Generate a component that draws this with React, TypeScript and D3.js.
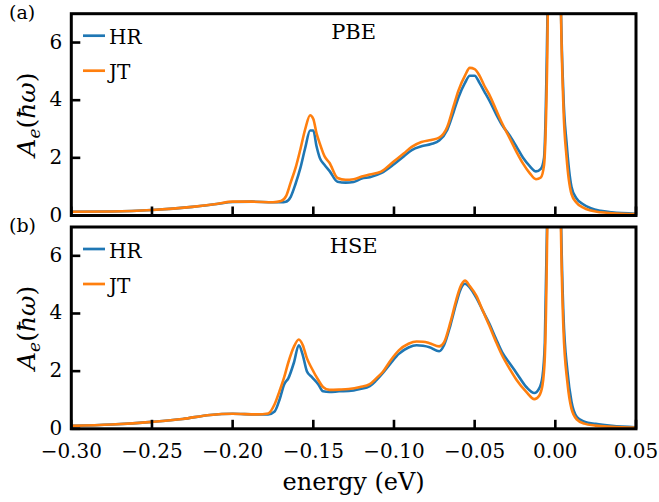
import React from "react";
import * as d3 from "d3";

const energyPBE = [-0.3, -0.275, -0.25, -0.225, -0.21, -0.2, -0.188, -0.175, -0.17, -0.167, -0.164, -0.161, -0.158, -0.155, -0.152, -0.15, -0.148, -0.146, -0.143, -0.14, -0.135, -0.13, -0.125, -0.12, -0.115, -0.108, -0.1, -0.094, -0.089, -0.083, -0.077, -0.072, -0.067, -0.063, -0.06, -0.056, -0.053, -0.05, -0.047, -0.044, -0.041, -0.037, -0.033, -0.028, -0.024, -0.02, -0.016, -0.012, -0.009, -0.007, -0.005, -0.003, -0.001, 0.001, 0.003, 0.005, 0.007, 0.01, 0.013, 0.017, 0.022, 0.028, 0.035, 0.05];
const hrPBE = [0.13, 0.14, 0.19, 0.3, 0.4, 0.47, 0.48, 0.46, 0.46, 0.48, 0.65, 1.1, 1.65, 2.35, 2.95, 2.95, 2.4, 2.0, 1.75, 1.55, 1.17, 1.14, 1.16, 1.28, 1.33, 1.47, 1.78, 2.05, 2.27, 2.4, 2.48, 2.6, 2.97, 3.6, 4.1, 4.6, 4.85, 4.85, 4.6, 4.3, 4.0, 3.55, 3.14, 2.75, 2.38, 2.0, 1.72, 1.53, 1.62, 2.0, 6.5, 16, 30, 25, 9, 4.2, 2.5, 1.0, 0.6, 0.4, 0.25, 0.16, 0.11, 0.06];
const jtPBE = [0.13, 0.14, 0.19, 0.3, 0.4, 0.48, 0.48, 0.46, 0.5, 0.66, 1.15, 1.65, 2.3, 3.0, 3.48, 3.35, 2.85, 2.5, 2.05, 1.83, 1.3, 1.24, 1.26, 1.35, 1.42, 1.52, 1.88, 2.15, 2.38, 2.55, 2.62, 2.7, 3.07, 3.8, 4.34, 4.85, 5.12, 5.08, 4.85, 4.5, 4.2, 3.7, 3.2, 2.65, 2.2, 1.8, 1.48, 1.26, 1.32, 1.75, 5.5, 15, 30, 26, 9, 3.8, 2.0, 0.75, 0.45, 0.28, 0.17, 0.11, 0.08, 0.05];

const energyHSE = [-0.3, -0.275, -0.25, -0.231, -0.214, -0.2, -0.185, -0.178, -0.174, -0.171, -0.168, -0.1655, -0.162, -0.159, -0.1565, -0.154, -0.151, -0.147, -0.144, -0.14, -0.134, -0.128, -0.121, -0.115, -0.111, -0.107, -0.102, -0.097, -0.091, -0.086, -0.082, -0.078, -0.072, -0.069, -0.065, -0.0615, -0.059, -0.056, -0.053, -0.049, -0.045, -0.041, -0.037, -0.033, -0.028, -0.024, -0.018, -0.013, -0.01, -0.008, -0.0065, -0.005, -0.003, -0.001, 0.001, 0.003, 0.005, 0.0075, 0.01, 0.0134, 0.018, 0.025, 0.035, 0.05];
const hrHSE = [0.1, 0.15, 0.24, 0.34, 0.48, 0.52, 0.5, 0.5, 0.6, 1.0, 1.55, 1.75, 2.3, 2.9, 2.55, 2.0, 1.8, 1.55, 1.3, 1.28, 1.3, 1.31, 1.38, 1.48, 1.68, 1.93, 2.28, 2.6, 2.82, 2.9, 2.88, 2.83, 2.69, 2.9, 3.6, 4.34, 4.8, 5.03, 4.9, 4.55, 4.1, 3.66, 3.15, 2.66, 2.25, 1.93, 1.45, 1.24, 1.4, 1.8, 3.0, 7.5, 20, 30, 25, 9.5, 4.0, 2.0, 0.95, 0.41, 0.25, 0.17, 0.1, 0.05];
const jtHSE = [0.1, 0.15, 0.24, 0.34, 0.48, 0.52, 0.5, 0.53, 0.85, 1.3, 1.8, 2.3, 2.85, 3.1, 2.9, 2.45, 2.1, 1.7, 1.45, 1.35, 1.36, 1.38, 1.45, 1.55, 1.75, 1.97, 2.38, 2.72, 2.95, 3.03, 3.02, 2.97, 2.86, 3.0, 3.7, 4.45, 4.9, 5.14, 4.95, 4.62, 4.1, 3.59, 3.05, 2.55, 2.05, 1.69, 1.28, 1.03, 1.15, 1.5, 2.5, 7.0, 20, 30, 25, 9, 3.5, 1.6, 0.7, 0.32, 0.18, 0.11, 0.07, 0.04];

const xTicks = [-0.3, -0.25, -0.2, -0.15, -0.1, -0.05, 0.0, 0.05];
const yTicks = [0, 2, 4, 6];
const seriesNames = ["HR", "JT"];
const seriesColors = ["#1f77b4", "#ff7f0e"];
const panelLetters = ["(a)", "(b)"];
const panelTitles = ["PBE", "HSE"];

const W = 659;
const H = 502;
const left = 71.3;
const right = 636;
const panelTops = [13.7, 227];
const panelH = 201.8;
const FONT = "DejaVu Serif";

const fmt = (v: number) => {
  const s = Math.abs(v).toFixed(2);
  return v < -1e-9 ? "\u2212" + s : s;
};

function Panel({ idx, energy, hr, jt }: { idx: number; energy: number[]; hr: number[]; jt: number[] }) {
  const top = panelTops[idx];
  const bottom = top + panelH;
  const x = d3.scaleLinear().domain([-0.3, 0.05]).range([left, right]);
  const y = d3.scaleLinear().domain([0, 7]).range([bottom, top]);
  const line = d3
    .line<number>()
    .x((_, i) => x(energy[i]))
    .y((d) => y(d))
    .curve(d3.curveMonotoneX);
  const clipId = `clip-${idx}`;
  const showXLabels = idx === 1;
  return (
    <g>
      <defs>
        <clipPath id={clipId}>
          <rect x={left} y={top} width={right - left} height={panelH} />
        </clipPath>
      </defs>
      <g clipPath={`url(#${clipId})`}>
        {[hr, jt].map((vals, k) => (
          <path
            key={k}
            d={line(vals) || ""}
            fill="none"
            stroke={seriesColors[k]}
            strokeWidth={2.6}
            strokeLinejoin="round"
            strokeLinecap="round"
          />
        ))}
      </g>
      {xTicks.map((t) => (
        <g key={t}>
          <line x1={x(t)} x2={x(t)} y1={bottom} y2={bottom - 9} stroke="#000" strokeWidth={2.6} />
          {showXLabels && (
            <text x={x(t)} y={bottom + 29.5} textAnchor="middle" style={{ fontFamily: FONT }} fontSize={20} fill="#000">
              {fmt(t)}
            </text>
          )}
        </g>
      ))}
      {yTicks.map((t) => (
        <g key={t}>
          <line x1={left} x2={left + 9} y1={y(t)} y2={y(t)} stroke="#000" strokeWidth={2.6} />
          <text x={left - 9} y={y(t) + 6} textAnchor="end" style={{ fontFamily: FONT }} fontSize={20} fill="#000">
            {t}
          </text>
        </g>
      ))}
      <rect x={left} y={top} width={right - left} height={panelH} fill="none" stroke="#000" strokeWidth={3} />
      {seriesNames.map((name, k) => {
        const ly = top + 22 + k * 35;
        return (
          <g key={name}>
            <line x1={83} x2={105} y1={ly} y2={ly} stroke={seriesColors[k]} strokeWidth={2.7} />
            <text x={109} y={ly + 8.5} style={{ fontFamily: FONT }} fontSize={20} fill="#000">
              {name}
            </text>
          </g>
        );
      })}
      <text x={(left + right) / 2} y={top + 25.5} textAnchor="middle" style={{ fontFamily: FONT }} fontSize={21} fill="#000">
        {panelTitles[idx]}
      </text>
      <text x={9} y={top + 5} style={{ fontFamily: FONT }} fontSize={19} fill="#000">
        {panelLetters[idx]}
      </text>
      <text
        transform={`translate(35,${(top + bottom) / 2}) rotate(-90)`}
        textAnchor="middle"
        style={{ fontFamily: FONT }}
        fontSize={25}
        fill="#000"
      >
        <tspan fontStyle="italic">A</tspan>
        <tspan fontStyle="italic" fontSize={17} dy={5}>e</tspan>
        <tspan dy={-5}>(</tspan>
        <tspan fontStyle="italic">ħω</tspan>
        <tspan>)</tspan>
      </text>
    </g>
  );
}

export default function App() {
  return (
    <svg width={W} height={H} style={{ position: "absolute", left: 0, top: 0, background: "#fff" }}>
      <rect width={W} height={H} fill="#fff" />
      <Panel idx={0} energy={energyPBE} hr={hrPBE} jt={jtPBE} />
      <Panel idx={1} energy={energyHSE} hr={hrHSE} jt={jtHSE} />
      <text x={(left + right) / 2} y={490} textAnchor="middle" style={{ fontFamily: FONT }} fontSize={24} fill="#000">
        energy (eV)
      </text>
    </svg>
  );
}
